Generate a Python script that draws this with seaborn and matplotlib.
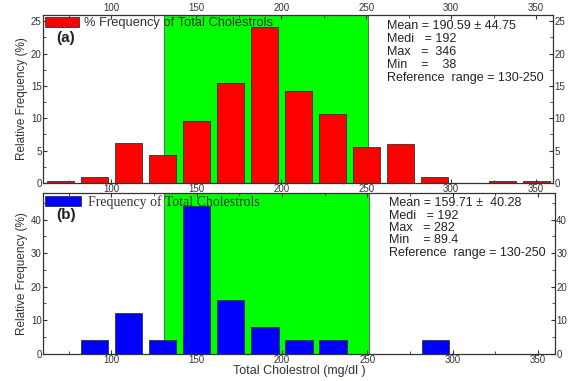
import numpy as np
import pandas as pd
import seaborn as sns
import matplotlib.pyplot as plt
from matplotlib.patches import Patch
from matplotlib.ticker import MultipleLocator

sns.set_style("ticks")
plt.rcParams['font.family'] = ['Liberation Sans', 'DejaVu Sans']

# bin centres (mg/dl) and relative frequencies
bins = [70, 90, 110, 130, 150, 170, 190, 210, 230, 250, 270, 290, 310, 330, 350]
freq_a = [0.3, 0.9, 6.2, 4.3, 9.5, 15.5, 24.1, 14.2, 10.7, 5.6, 6.0, 0.9, 0.0, 0.3, 0.3]
freq_b = [0, 4, 12, 4, 44, 16, 8, 4, 4, 0, 0, 4, 0, 0, 0]

stats_a = ["Mean = 190.59 \u00b1 44.75", "Medi   = 192", "Max   =  346",
           "Min    =    38", "Reference  range = 130-250"]
stats_b = ["Mean = 159.71 \u00b1  40.28", "Medi   = 192", "Max   = 282",
           "Min    = 89.4", "Reference  range = 130-250"]

ref_lo, ref_hi = 131, 251

fig = plt.figure(figsize=(5.75, 3.81), dpi=100)
ax1 = fig.add_axes([0.075, 0.52, 0.887, 0.441])
ax2 = fig.add_axes([0.075, 0.072, 0.890, 0.422])


def panel(ax, vals, color, ymax, ymaj, ymin, label, tag, stats, legfont, top_labels):
    df = pd.DataFrame({"bin": bins, "freq": vals})
    ax.axvspan(ref_lo, ref_hi, color="#00ff00", ec="#555555", lw=0.6, zorder=0)
    sns.barplot(data=df, x="bin", y="freq", native_scale=True, color=color,
                saturation=1, width=0.8, edgecolor="#333333", linewidth=0.6,
                ax=ax, zorder=2)
    ax.set_xlim(60, 360)
    ax.set_ylim(0, ymax)
    ax.xaxis.set_major_locator(MultipleLocator(50))
    ax.xaxis.set_minor_locator(MultipleLocator(25))
    ax.yaxis.set_major_locator(MultipleLocator(ymaj))
    ax.yaxis.set_minor_locator(MultipleLocator(ymin))
    ax.tick_params(which="both", direction="in", top=True, right=True,
                   labeltop=top_labels, labelright=True, labelsize=7, pad=1,
                   color="#333333", labelcolor="#333333")
    ax.tick_params(which="major", length=3)
    ax.tick_params(which="minor", length=2)
    for s in ax.spines.values():
        s.set_linewidth(0.9)
        s.set_color("#333333")
    ax.set_xlabel("")
    ax.set_ylabel("Relative Frequency (%)", fontsize=8.5, labelpad=2,
                  color="#333333")
    leg = ax.legend(handles=[Patch(fc=color, ec="#333333", lw=0.6, label=label)],
                    loc="upper left", frameon=False, borderaxespad=0.05,
                    borderpad=0.1, handlelength=2.6, handleheight=0.8,
                    handletextpad=0.45, prop=legfont)
    for t in leg.get_texts():
        t.set_color("#333333")
    ax.text(0.025, 0.86, tag, transform=ax.transAxes, fontsize=11,
            fontweight="bold", va="center", color="#222222")
    for i, line in enumerate(stats):
        ax.text(0.675, 0.935 - i * 0.077, line, transform=ax.transAxes,
                fontsize=9, va="center", ha="left", color="#222222")


panel(ax1, freq_a, "#ff0000", 26, 5, 2.5, "% Frequency of Total Cholestrols",
      "(a)", stats_a, {"family": "Liberation Sans", "size": 9.3}, True)
panel(ax2, freq_b, "#0000ff", 48, 10, 5, "Frequency of Total Cholestrols",
      "(b)", stats_b, {"family": "Liberation Serif", "size": 10}, False)
ax2.set_xlabel("Total Cholestrol (mg/dl )", fontsize=9, labelpad=0,
               color="#333333")

fig.savefig("out.png", dpi=100, facecolor="white")
